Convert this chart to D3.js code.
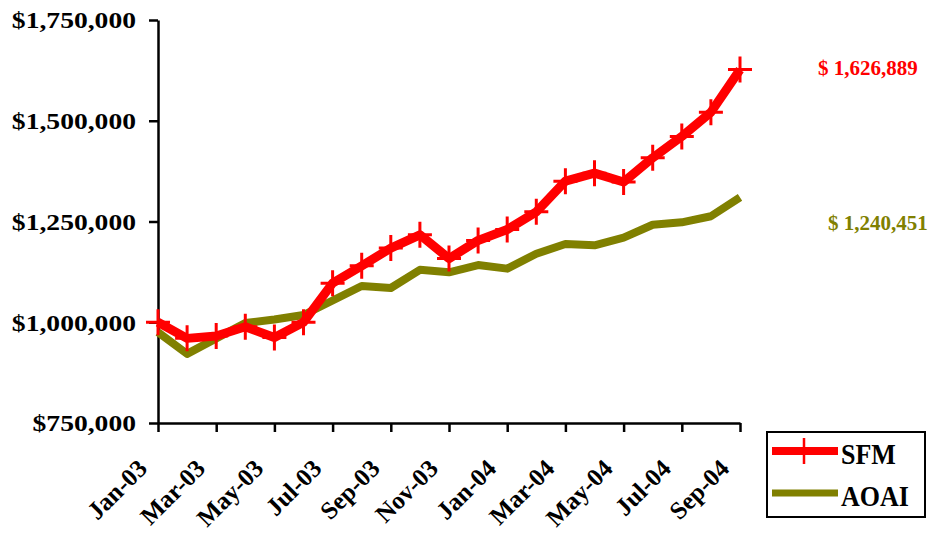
<!DOCTYPE html>
<html>
<head>
<meta charset="utf-8">
<script src="https://cdn.jsdelivr.net/npm/d3@7"></script>
<style>
  html, body { margin: 0; padding: 0; background: #fff; }
  svg { display: block; }
  text { font-family: "Liberation Serif", "Times New Roman", serif; font-weight: bold; }
</style>
</head>
<body>
<svg id="chart" width="931" height="534"></svg>
<script>
const months = ["Jan-03","Feb-03","Mar-03","Apr-03","May-03","Jun-03","Jul-03","Aug-03","Sep-03","Oct-03","Nov-03","Dec-03",
                "Jan-04","Feb-04","Mar-04","Apr-04","May-04","Jun-04","Jul-04","Aug-04","Sep-04"];
const sfm  = [1000000, 960000, 966000, 989000, 962000, 1000000, 1097000, 1140000, 1184000, 1217000, 1158000, 1203000,
              1230000, 1274000, 1350000, 1370000, 1348000, 1408000, 1461000, 1521000, 1626889];
const aoai = [975000, 921500, 960000, 998000, 1007000, 1018000, 1054000, 1090000, 1085000, 1130000, 1124000, 1142000,
              1133000, 1170000, 1194000, 1191000, 1210000, 1242000, 1248000, 1263000, 1310000];
const yTicks = [750000, 1000000, 1250000, 1500000, 1750000];
const xTickLabels = ["Jan-03","Mar-03","May-03","Jul-03","Sep-03","Nov-03","Jan-04","Mar-04","May-04","Jul-04","Sep-04"];
const seriesNames = ["SFM", "AOAI"];
const endLabels = ["$ 1,626,889", "$ 1,240,451"];
const colors = ["#FF0000", "#808000"];

const svg = d3.select("#chart");
const x = d3.scalePoint().domain(months).range([158, 740]);
const y = d3.scaleLinear().domain([750000, 1750000]).range([423, 20]);

// Y axis
const yAxis = svg.append("g").attr("transform", "translate(158,0)")
  .call(d3.axisLeft(y).tickValues(yTicks).tickFormat(d3.format("$,.0f")).tickSize(9).tickSizeOuter(0));
yAxis.select(".domain").attr("stroke", "#000").attr("stroke-width", 2.5);
yAxis.selectAll(".tick line").attr("stroke", "#000").attr("stroke-width", 2.5);
yAxis.selectAll(".tick text")
  .attr("x", 0).attr("dy", "0.34em")
  .attr("transform", "translate(-22,0) scale(1.2,1)")
  .attr("text-anchor", "end")
  .attr("fill", "#000").style("font-size", "23px")
  .style("font-family", "'Liberation Serif', 'Times New Roman', serif").style("font-weight", "bold");

// X axis
const xAxis = svg.append("g").attr("transform", "translate(0,423)")
  .call(d3.axisBottom(x).tickValues(xTickLabels).tickSize(9).tickSizeOuter(0));
xAxis.select(".domain").attr("stroke", "#000").attr("stroke-width", 2.5);
xAxis.selectAll(".tick line").attr("stroke", "#000").attr("stroke-width", 2.5);
xAxis.selectAll(".tick text")
  .attr("y", 0).attr("dy", 0)
  .attr("transform", "translate(-10,47) rotate(-45)")
  .attr("text-anchor", "end")
  .attr("fill", "#000").style("font-size", "25px")
  .style("font-family", "'Liberation Serif', 'Times New Roman', serif").style("font-weight", "bold");

// Lines
const line = d3.line().x((d, i) => x(months[i])).y(d => y(d));
svg.append("path").datum(aoai).attr("d", line).attr("fill", "none")
  .attr("stroke", colors[1]).attr("stroke-width", 8).attr("stroke-linejoin", "round");
svg.append("path").datum(sfm).attr("d", line).attr("fill", "none")
  .attr("stroke", colors[0]).attr("stroke-width", 9).attr("stroke-linejoin", "round");

// Markers (plus)
const plus = "M-12,0H12M0,-13V13";
svg.append("g").selectAll("path").data(sfm).join("path")
  .attr("transform", (d, i) => `translate(${x(months[i])},${y(d)})`)
  .attr("d", plus).attr("stroke", colors[0]).attr("stroke-width", 3).attr("fill", "none");

// End labels
svg.append("text").attr("x", 818).attr("y", 75).attr("fill", colors[0])
  .style("font-size", "21px").text(endLabels[0]);
svg.append("text").attr("x", 828).attr("y", 230).attr("fill", colors[1])
  .style("font-size", "21px").text(endLabels[1]);

// Legend
const lg = svg.append("g");
lg.append("rect").attr("x", 767).attr("y", 432).attr("width", 158).attr("height", 85)
  .attr("fill", "#fff").attr("stroke", "#000").attr("stroke-width", 2);
const legendY = [451, 493];
seriesNames.forEach((name, i) => {
  lg.append("line").attr("x1", 772).attr("x2", 838).attr("y1", legendY[i]).attr("y2", legendY[i])
    .attr("stroke", colors[i]).attr("stroke-width", i === 0 ? 8 : 7);
  if (i === 0) {
    lg.append("path").attr("transform", `translate(804,${legendY[i]})`).attr("d", plus)
      .attr("stroke", colors[0]).attr("stroke-width", 2.5).attr("fill", "none");
  }
  lg.append("text").attr("transform", `translate(841,${legendY[i] + 13}) scale(1,1.1)`).attr("fill", "#000")
    .style("font-size", "26px").text(name);
});
</script>
</body>
</html>
